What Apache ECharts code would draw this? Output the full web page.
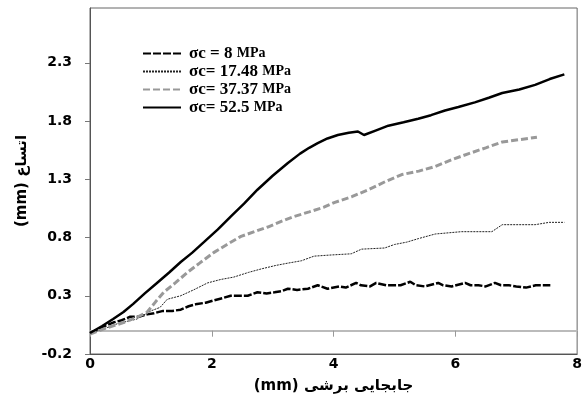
<!DOCTYPE html>
<html>
<head>
<meta charset="utf-8">
<script src="https://cdn.jsdelivr.net/npm/echarts@6/dist/echarts.min.js"></script>
<style>html,body{margin:0;padding:0;background:#fff}#c{width:585px;height:403px}</style>
</head>
<body>
<div id="c"></div>
<script>
const seriesNames = ['σc = 8 MPa', 'σc= 17.48 MPa', 'σc= 37.37 MPa', 'σc= 52.5 MPa'];
const xTicks = [0, 2, 4, 6, 8];
const yTicks = [-0.2, 0.3, 0.8, 1.3, 1.8, 2.3];

const s8 = [[0,-0.02],[0.03,-0.01],[0.2,0.03],[0.38,0.07],[0.52,0.09],[0.66,0.12],[0.8,0.12],[0.94,0.14],[1.05,0.15],[1.2,0.17],[1.35,0.17],[1.49,0.18],[1.62,0.21],[1.76,0.23],[1.9,0.24],[2.03,0.26],[2.18,0.28],[2.31,0.3],[2.45,0.3],[2.59,0.3],[2.75,0.33],[2.9,0.32],[3.03,0.33],[3.15,0.34],[3.25,0.36],[3.4,0.35],[3.58,0.36],[3.74,0.39],[3.9,0.36],[4.1,0.38],[4.2,0.37],[4.37,0.41],[4.45,0.39],[4.6,0.38],[4.7,0.41],[4.87,0.39],[5.1,0.39],[5.26,0.42],[5.35,0.39],[5.5,0.38],[5.72,0.41],[5.8,0.39],[5.94,0.38],[6.16,0.41],[6.25,0.39],[6.38,0.39],[6.5,0.38],[6.65,0.41],[6.75,0.39],[6.88,0.39],[7.0,0.38],[7.16,0.37],[7.32,0.39],[7.56,0.39]];
const s17 = [[0,-0.02],[0.2,0.01],[0.45,0.06],[0.77,0.1],[1.0,0.17],[1.15,0.2],[1.27,0.27],[1.49,0.3],[1.7,0.35],[1.93,0.41],[2.15,0.44],[2.36,0.46],[2.6,0.5],[2.81,0.53],[3.05,0.56],[3.25,0.58],[3.47,0.6],[3.68,0.64],[3.96,0.65],[4.29,0.66],[4.46,0.7],[4.84,0.71],[5.0,0.74],[5.2,0.76],[5.39,0.79],[5.67,0.83],[6.1,0.85],[6.6,0.85],[6.77,0.91],[7.31,0.91],[7.54,0.93],[7.79,0.93]];
const s37 = [[0,-0.03],[0.25,0.02],[0.55,0.07],[0.75,0.11],[0.94,0.16],[1.08,0.25],[1.21,0.33],[1.4,0.41],[1.6,0.5],[1.8,0.58],[2.03,0.67],[2.25,0.74],[2.48,0.81],[2.7,0.85],[2.92,0.89],[3.15,0.94],[3.35,0.98],[3.6,1.02],[3.84,1.06],[4.01,1.1],[4.3,1.15],[4.57,1.21],[4.85,1.28],[5.12,1.34],[5.4,1.37],[5.67,1.41],[5.95,1.47],[6.22,1.52],[6.5,1.57],[6.77,1.62],[7.05,1.64],[7.34,1.66]];
const s52 = [[0,-0.02],[0.03,-0.01],[0.2,0.04],[0.38,0.1],[0.55,0.16],[0.71,0.23],[0.9,0.32],[1.1,0.41],[1.3,0.5],[1.49,0.59],[1.68,0.67],[1.87,0.76],[2.1,0.87],[2.31,0.98],[2.53,1.09],[2.75,1.21],[3.0,1.33],[3.25,1.44],[3.45,1.52],[3.6,1.57],[3.74,1.61],[3.9,1.65],[4.07,1.68],[4.25,1.7],[4.4,1.71],[4.5,1.68],[4.7,1.72],[4.9,1.76],[5.15,1.79],[5.39,1.82],[5.6,1.85],[5.83,1.89],[6.05,1.92],[6.32,1.96],[6.55,2.0],[6.77,2.04],[7.05,2.07],[7.31,2.11],[7.55,2.16],[7.79,2.2]];

const chart = echarts.init(document.getElementById('c'), null, {renderer: 'canvas'});
const labelFont = {color: '#000', fontFamily: 'DejaVu Sans', fontWeight: 'bold', fontSize: 14};
const nameFont = {color: '#000', fontFamily: 'DejaVu Sans', fontWeight: 'bold', fontSize: 15};

function legendFmt(name) {
  const m = name.match(/^σc(\s*=\s*)([\d.]+) MPa$/);
  const raised = (m[2] === '17.48' || m[2] === '37.37');
  return '{s|σc' + m[1] + m[2] + ' }{' + (raised ? 'u' : 'm') + '|MPa}';
}

chart.setOption({
  animation: false,
  backgroundColor: '#fff',
  grid: {left: 90, right: 7, top: 8, bottom: 49, show: true, borderColor: '#666', borderWidth: 1},
  legend: {
    orient: 'vertical', left: 137, top: 40,
    itemWidth: 38, itemHeight: 14, itemGap: 1,
    data: seriesNames,
    formatter: legendFmt,
    itemStyle: {opacity: 0},
    textStyle: {
      padding: [0, 0, 0, 3],
      rich: {
        s: {fontFamily: 'Liberation Serif', fontWeight: 'bold', fontSize: 17, color: '#000', lineHeight: 15},
        m: {fontFamily: 'Liberation Serif', fontWeight: 'bold', fontSize: 14, color: '#000', lineHeight: 15},
        u: {fontFamily: 'Liberation Serif', fontWeight: 'bold', fontSize: 14, color: '#000', lineHeight: 15, verticalAlign: 'top'}
      }
    }
  },
  xAxis: [
    {
      type: 'value', min: xTicks[0], max: xTicks[xTicks.length - 1], interval: 2, position: 'bottom',
      axisLine: {onZero: false, lineStyle: {color: '#555', width: 1}},
      axisTick: {show: false}, splitLine: {show: false},
      axisLabel: Object.assign({margin: 3}, labelFont),
      name: '(mm) جابجایی برشی', nameLocation: 'middle', nameGap: 25, nameTextStyle: nameFont
    },
    {
      type: 'value', min: xTicks[0], max: xTicks[xTicks.length - 1], interval: 2, position: 'bottom',
      axisLine: {onZero: true, lineStyle: {color: '#bbb', width: 2}},
      axisTick: {show: true, length: 6, lineStyle: {color: '#999'}},
      axisLabel: {show: false}, splitLine: {show: false}
    }
  ],
  yAxis: {
    type: 'value', min: yTicks[0], max: 2.77, interval: 0.5,
    axisLine: {show: true, onZero: false, lineStyle: {color: '#555'}},
    axisTick: {show: true, length: 5, lineStyle: {color: '#777'}},
    splitLine: {show: false},
    axisLabel: Object.assign({margin: 18, showMaxLabel: false, formatter: v => v.toFixed(1)}, labelFont),
    name: '(mm) اتساع', nameLocation: 'middle', nameRotate: 90, nameGap: 60, nameTextStyle: nameFont
  },
  series: [
    {name: seriesNames[0], type: 'line', data: s8, symbol: 'none', lineStyle: {color: '#000', width: 2.5, type: [8, 2]}, itemStyle: {color: '#000'}},
    {name: seriesNames[1], type: 'line', data: s17, symbol: 'none', lineStyle: {color: '#222', width: 1, type: [2, 1]}, itemStyle: {color: '#222'}},
    {name: seriesNames[2], type: 'line', data: s37, symbol: 'none', lineStyle: {color: '#999', width: 3, type: [7, 3]}, itemStyle: {color: '#999'}},
    {name: seriesNames[3], type: 'line', data: s52, symbol: 'none', lineStyle: {color: '#000', width: 2.5}, itemStyle: {color: '#000'}}
  ]
});
</script>
</body>
</html>
